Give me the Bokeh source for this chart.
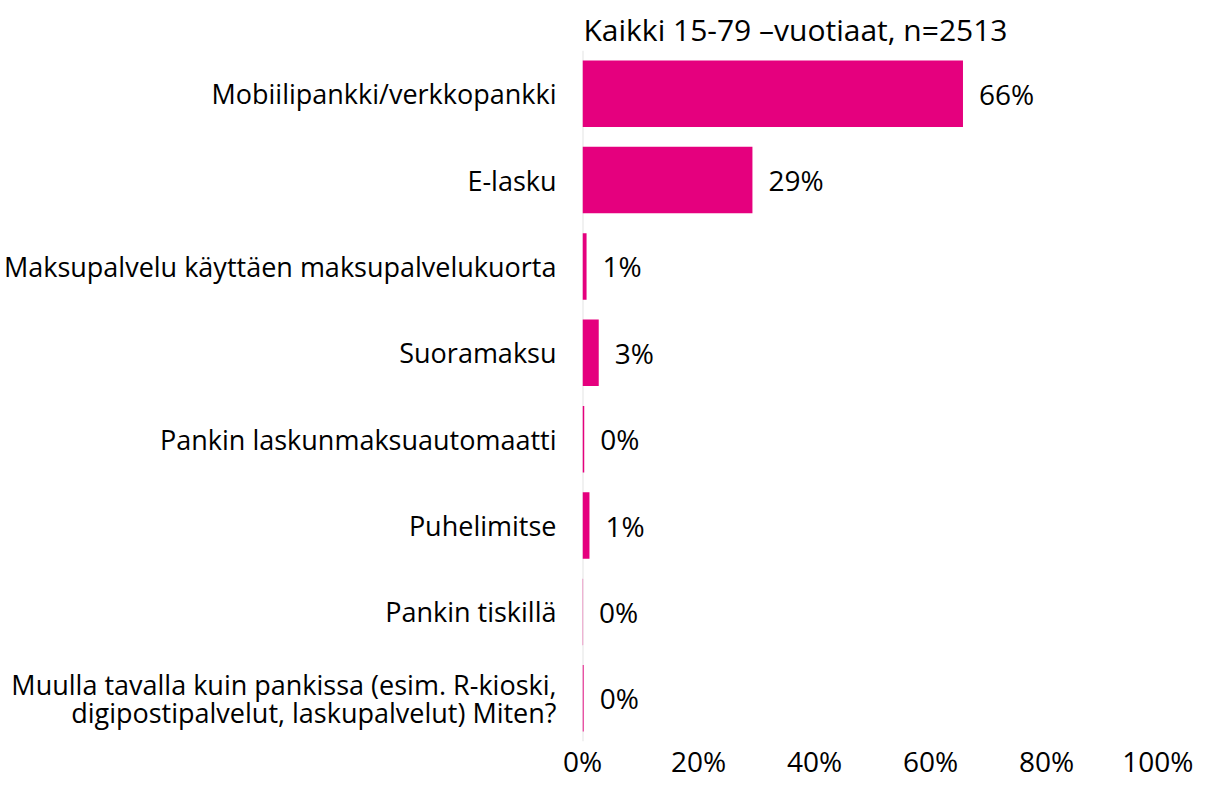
from bokeh.plotting import figure
from bokeh.models import Range1d, FixedTicker, PrintfTickFormatter, ColumnDataSource
from bokeh.core.properties import value
from bokeh.embed import file_html
from bokeh.resources import INLINE

title_text = "Kaikki 15-79 \u2013vuotiaat, n=2513"
categories = [
    "Mobiilipankki/verkkopankki",
    "E-lasku",
    "Maksupalvelu käyttäen maksupalvelukuorta",
    "Suoramaksu",
    "Pankin laskunmaksuautomaatti",
    "Puhelimitse",
    "Pankin tiskillä",
    "Muulla tavalla kuin pankissa (esim. R-kioski,\ndigipostipalvelut, laskupalvelut) Miten?",
]
values = [65.6, 29.3, 0.7, 2.8, 0.3, 1.2, 0.1, 0.2]
x_ticks = [0, 20, 40, 60, 80, 100]

FONT = "Open Sans"
BAR = "#E5007E"

pos = list(range(len(categories)))
labels = [f"{round(v)}%" for v in values]
src = ColumnDataSource(dict(y=pos, v=values, lab=labels))

p = figure(width=1193, height=782, output_backend="svg", toolbar_location=None,
           x_range=Range1d(0, 100), y_range=Range1d(len(categories) - 0.5, -0.5),
           min_border_left=582, min_border_right=31, min_border_top=50,
           min_border_bottom=30)
p.outline_line_color = None
p.grid.visible = False

p.title.text = title_text
p.title.align = "left"
p.title.text_font = FONT
p.title.text_font_size = "30px"
p.title.text_font_style = "normal"
p.title.text_color = "#000000"
p.title.offset = 1
p.title.standoff = 2

# zero line
p.segment(x0=[0], x1=[0], y0=[-0.5], y1=[len(categories) - 0.5], line_color="#e3e3e3", line_width=2)

p.hbar(y="y", right="v", left=0, height=0.77, source=src, fill_color=BAR, line_color=None)
p.text(x="v", y="y", text="lab", source=src, x_offset=16, text_baseline="middle",
       text_font=value(FONT), text_font_size="28px", text_color="#000000")

xa = p.xaxis[0]
xa.ticker = FixedTicker(ticks=x_ticks)
xa.formatter = PrintfTickFormatter(format="%d%%")
xa.axis_line_color = None
xa.major_tick_line_color = None
xa.minor_tick_line_color = None
xa.major_tick_out = 0
xa.major_tick_in = 0
xa.major_label_text_font = FONT
xa.major_label_text_font_size = "28px"
xa.major_label_text_color = "#000000"
xa.major_label_standoff = 0

ya = p.yaxis[0]
ya.ticker = FixedTicker(ticks=pos)
ya.major_label_overrides = {i: c for i, c in zip(pos, categories)}
ya.axis_line_color = None
ya.major_tick_line_color = None
ya.minor_tick_line_color = None
ya.major_tick_out = 0
ya.major_tick_in = 0
ya.major_label_text_font = FONT
ya.major_label_text_font_size = "27px"
ya.major_label_text_color = "#000000"
ya.major_label_text_line_height = 0.75
ya.major_label_standoff = 26

open("out.html", "w").write(file_html(p, INLINE))
